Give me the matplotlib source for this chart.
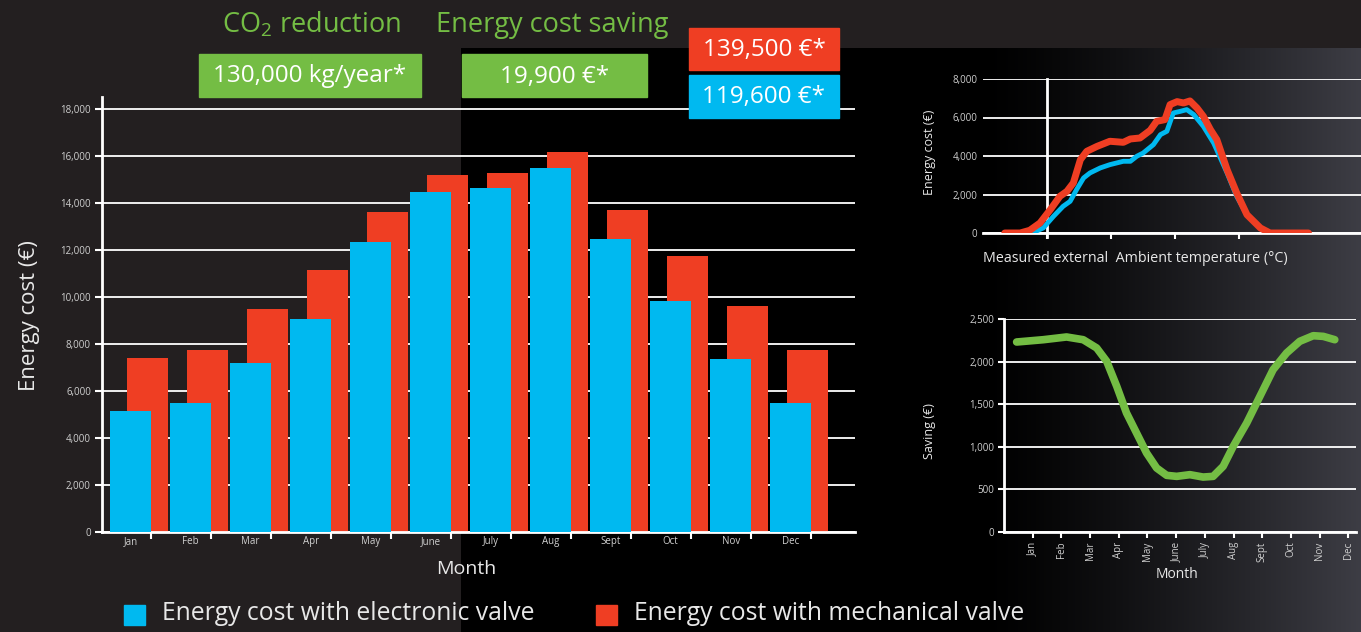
import matplotlib
matplotlib.use('Agg')
import matplotlib.pyplot as plt
import numpy as np
from matplotlib.patches import Rectangle

plt.rcParams['font.family'] = ['Open Sans', 'DejaVu Sans']
plt.rcParams['mathtext.fontset'] = 'custom'
plt.rcParams['mathtext.rm'] = 'Open Sans'

# data
months = ['Jan', 'Feb', 'Mar', 'Apr', 'May', 'June', 'July', 'Aug', 'Sept', 'Oct', 'Nov', 'Dec']
electronic = [5150, 5500, 7200, 9070, 12350, 14450, 14650, 15500, 12450, 9830, 7370, 5500]
mechanical = [7400, 7750, 9500, 11150, 13600, 15200, 15250, 16150, 13700, 11750, 9600, 7750]

temp_mech = [-6.6, -4.2, -2.7, -1.1, 0.5, 2.0, 3.1, 4.1, 5.2, 6.2, 7.8, 9.8, 11.9, 13.0, 14.5, 16.1,
             17.1, 18.4, 19.2, 20.3, 21.3, 22.3, 23.4, 24.4, 25.5, 26.5, 28.1, 29.6, 31.2, 33.3, 34.8, 40.8]
cost_mech = [0, 0, 140, 520, 1210, 1905, 2165, 2600, 3810, 4245, 4500, 4765, 4710, 4885, 4935, 5335,
             5800, 5890, 6670, 6825, 6755, 6860, 6495, 6060, 5370, 4850, 3290, 2080, 950, 260, 0, 0]
temp_elec = [-6.6, -2.1, -0.6, 1.0, 2.5, 3.6, 4.6, 5.7, 6.7, 8.3, 9.8, 11.9, 13.0, 14.0, 15.0, 16.6,
             17.7, 18.7, 19.7, 20.8, 21.8, 22.9, 24.4, 26.0, 28.1, 29.6, 31.2, 33.3, 34.8, 40.6]
cost_elec = [0, 35, 260, 865, 1385, 1645, 2250, 2860, 3120, 3380, 3550, 3725, 3725, 3985, 4155, 4590,
             5110, 5285, 6235, 6320, 6410, 6150, 5540, 4675, 3120, 1905, 950, 260, 0, 0]

saving_x = [0.44, 1.37, 2.18, 2.76, 3.23, 3.58, 3.93, 4.27, 4.62, 4.97, 5.32, 5.67, 6.02, 6.48, 6.94,
            7.29, 7.64, 7.99, 8.46, 8.92, 9.38, 9.85, 10.31, 10.78, 11.13, 11.53]
saving = [2230, 2257, 2289, 2257, 2160, 2003, 1710, 1397, 1162, 927, 751, 665, 653, 673, 645,
          653, 771, 1005, 1279, 1592, 1905, 2101, 2238, 2304, 2296, 2257]

BLUE = '#00b9f0'
RED = '#ef3e23'
GREEN = '#74bd44'
BG = '#231f20'
TXT = '#e8e8e8'
TICK = '#cfcfcf'

W, H = 1361, 632
fig = plt.figure(figsize=(W / 100, H / 100), dpi=100, facecolor=BG)


def px_axes(x0, y0, x1, y1):
    return fig.add_axes([x0 / W, 1 - y1 / H, (x1 - x0) / W, (y1 - y0) / H])


# background: dark grey, black panel, grey fade at right
bg = px_axes(0, 0, W, H)
bg.axis('off')
xs = np.arange(461, W)
t = np.clip((xs - 980) / (W - 980), 0, 1) ** 1.3
grad = np.stack([t * 0.24, t * 0.24, t * 0.27], axis=-1)[None, :, :]
bg.imshow(grad, extent=[461, W, H, 48], aspect='auto', zorder=0)
bg.set_xlim(0, W)
bg.set_ylim(H, 0)

# main bar chart
ax = px_axes(102, 97, 855, 532)
ax.patch.set_alpha(0)
x = np.arange(12)
ax.bar(x + 0.283, mechanical, width=0.683, color=RED, zorder=2)
ax.bar(x, electronic, width=0.683, color=BLUE, zorder=3)
ax.set_xlim(-0.475, 12.07)
ax.set_ylim(0, 18500)
ax.set_yticks(range(0, 18001, 2000))
ax.set_yticklabels([f'{v:,}' for v in range(0, 18001, 2000)])
ax.yaxis.grid(True, color='white', lw=1.3)
ax.set_axisbelow(True)
for s in ['top', 'right']:
    ax.spines[s].set_visible(False)
for s in ['left', 'bottom']:
    ax.spines[s].set_color('white')
    ax.spines[s].set_linewidth(2)
ax.set_xticks(x + 0.342)
ax.set_xticklabels([])
ax.set_xticks(x, minor=True)
ax.set_xticklabels(months, minor=True)
ax.tick_params(axis='x', which='major', length=5, width=1.5, color='white')
ax.tick_params(axis='x', which='minor', length=0, pad=3, labelsize=7, labelcolor=TICK)
ax.tick_params(axis='y', length=5, width=1.5, color='white', labelsize=7, labelcolor=TICK, pad=3)
fig.text(30 / W, 1 - 316 / H, 'Energy cost (€)', rotation=90, ha='center', va='center',
         color=TXT, fontsize=16)
fig.text(466 / W, 1 - 569 / H, 'Month', ha='center', va='center', color=TXT, fontsize=14)

# top right: cost vs temperature
ax2 = px_axes(983, 79, 1361, 233)
ax2.patch.set_alpha(0)
ax2.plot(temp_elec, cost_elec, color=BLUE, lw=3.5, solid_capstyle='round', zorder=3)
ax2.plot(temp_mech, cost_mech, color=RED, lw=5, solid_capstyle='round', zorder=4)
ax2.set_xlim(-10, 49)
ax2.set_ylim(0, 8000)
ax2.plot([0, 0], [-200, 8000], color='white', lw=2, clip_on=False, zorder=2)
ax2.set_yticks(range(0, 8001, 2000))
ax2.set_yticklabels([f'{v:,}' for v in range(0, 8001, 2000)])
ax2.yaxis.grid(True, color='white', lw=1.3)
ax2.set_axisbelow(True)
ax2.set_xticks([0, 10, 20, 30])
ax2.set_xticklabels([])
for s in ['top', 'right', 'left']:
    ax2.spines[s].set_visible(False)
ax2.spines['bottom'].set_color('white')
ax2.spines['bottom'].set_linewidth(2)
ax2.tick_params(axis='x', length=4, width=1.5, color='white')
ax2.tick_params(axis='y', length=0, labelsize=7, labelcolor=TICK, pad=4)
fig.text(929 / W, 1 - 152 / H, 'Energy cost (€)', rotation=90, ha='center', va='center',
         color=TXT, fontsize=9)
fig.text(983 / W, 1 - 259 / H, 'Measured external  Ambient temperature (°C)', ha='left',
         va='center', color=TXT, fontsize=10.3)

# bottom right: monthly saving
ax3 = px_axes(1004, 319, 1356, 532)
ax3.patch.set_alpha(0)
ax3.plot(saving_x, saving, color=GREEN, lw=5.5, solid_capstyle='round', zorder=3)
ax3.set_xlim(0, 12.27)
ax3.set_ylim(0, 2500)
ax3.set_yticks(range(0, 2501, 500))
ax3.set_yticklabels([f'{v:,}' for v in range(0, 2501, 500)])
ax3.yaxis.grid(True, color='white', lw=1.3)
ax3.set_axisbelow(True)
ax3.set_xticks(np.arange(1, 13))
ax3.set_xticklabels(months, rotation=90)
for s in ['top', 'right']:
    ax3.spines[s].set_visible(False)
for s in ['left', 'bottom']:
    ax3.spines[s].set_color('white')
    ax3.spines[s].set_linewidth(2)
ax3.tick_params(axis='both', length=4, width=1.5, color='white', labelsize=7, labelcolor=TICK, pad=3)
fig.text(929 / W, 1 - 431 / H, 'Saving (€)', rotation=90, ha='center', va='center',
         color=TXT, fontsize=9)
fig.text(1177 / W, 1 - 574 / H, 'Month', ha='center', va='center', color=TXT, fontsize=10)

# overlay: headline boxes and legend
ov = px_axes(0, 0, W, H)
ov.set_xlim(0, W)
ov.set_ylim(H, 0)
ov.axis('off')
ov.text(222, 25, 'CO$_2$ reduction', color=GREEN, fontsize=19.5, ha='left', va='center')
ov.text(436, 25, 'Energy cost saving', color=GREEN, fontsize=19.5, ha='left', va='center')
boxes = [
    (199, 54, 421, 97, GREEN, '130,000 kg/year*'),
    (462, 54, 647, 97, GREEN, '19,900 €*'),
    (689, 28, 839, 70, RED, '139,500 €*'),
    (689, 75, 839, 118, BLUE, '119,600 €*'),
]
for x0, y0, x1, y1, c, label in boxes:
    ov.add_patch(Rectangle((x0, y0), x1 - x0, y1 - y0, color=c, zorder=5))
    ov.text((x0 + x1) / 2, (y0 + y1) / 2 + 1, label, color='white', fontsize=17.5,
            ha='center', va='center', zorder=6)

ov.add_patch(Rectangle((124, 605), 21, 20, color=BLUE))
ov.text(162, 614, 'Energy cost with electronic valve', color=TXT, fontsize=17.8, ha='left', va='center')
ov.add_patch(Rectangle((596, 605), 21, 20, color=RED))
ov.text(634, 614, 'Energy cost with mechanical valve', color=TXT, fontsize=17.8, ha='left', va='center')

fig.savefig('out.png', dpi=100, facecolor=BG)
